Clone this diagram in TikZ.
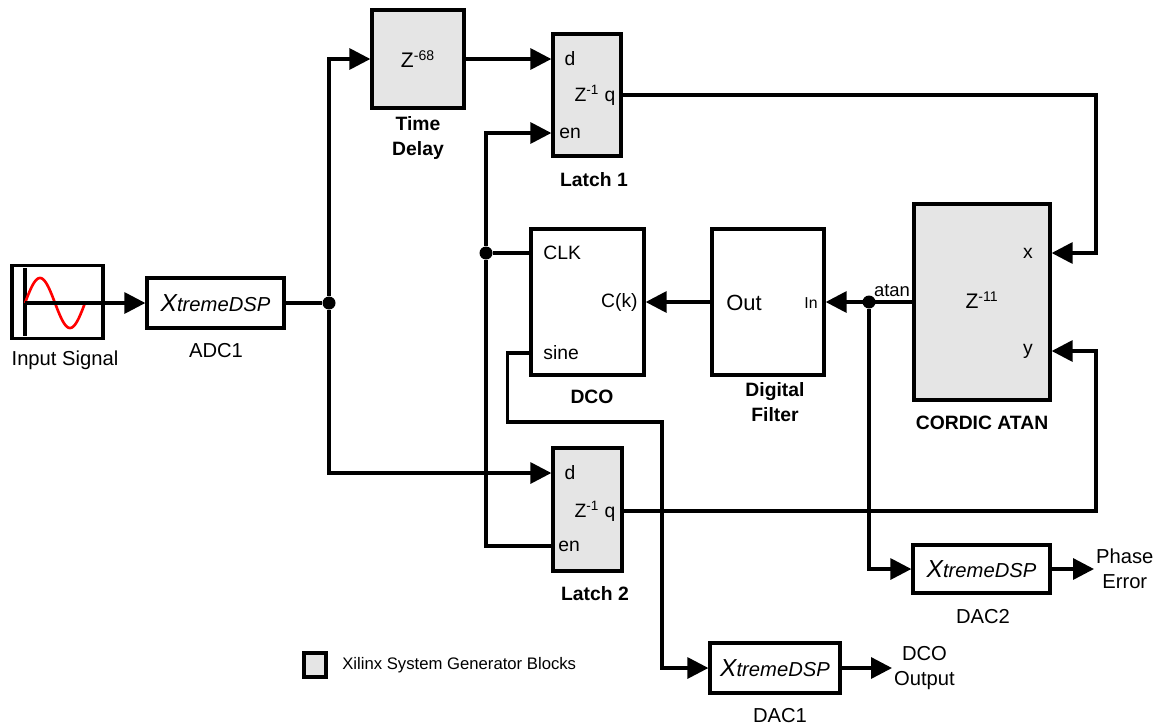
\documentclass[tikz,border=0pt]{standalone}
\usepackage{fontspec}
\setmainfont{Liberation Sans}
\usetikzlibrary{arrows.meta}

\newcommand{\xdsp}{{\itshape{\fontsize{14}{14}\selectfont X}tremeDSP}}

\tikzset{
  blk/.style={draw, line width=1.9pt, inner sep=0pt},
  gblk/.style={blk, fill=gray!20},
  wire/.style={line width=1.9pt},
  sig/.style={wire, -{Triangle[length=0.42cm, width=0.42cm]}},
  dot/.style={circle, fill=black, minimum size=0.26cm, inner sep=0pt},
  port/.style={inner sep=0pt, font=\fontsize{11}{12}\selectfont},
  lbl/.style={inner sep=0pt, font=\fontsize{11.5}{14.5}\selectfont, align=center},
  blbl/.style={inner sep=0pt, font=\bfseries\fontsize{11}{14.5}\selectfont, align=center}
}

\begin{document}
\begin{tikzpicture}[x=0.02cm, y=-0.02cm]
			\useasboundingbox (0,0) rectangle (1162,727);

			% Source and converters
			\node[blk, minimum width=1.82cm, minimum height=1.46cm] (insig) at (57.5,302) {};
			\node[blk, minimum width=2.74cm, minimum height=1.0cm, font=\fontsize{11.5}{13}\selectfont] (adc1) at (215.5,303) {\xdsp};
			\node[blk, minimum width=2.74cm, minimum height=0.96cm, font=\fontsize{11.5}{13}\selectfont] (dac2) at (981.5,569) {\xdsp};
			\node[blk, minimum width=2.6cm, minimum height=1.0cm, font=\fontsize{11.5}{13}\selectfont] (dac1) at (775,668) {\xdsp};

			% Sine generator icon
			\coordinate (orig) at (25,303);
			\draw[wire] (25,268) -- (25,336);
			\draw[red, line width=1.5pt] plot[domain=0:360, samples=60, smooth] ({25+\x/6}, {303-25*sin(\x)});

			% System generator blocks
			\node[gblk, minimum width=1.84cm, minimum height=1.96cm] (td) at (418,59) {};
			\node[gblk, minimum width=1.36cm, minimum height=2.44cm] (l1) at (587,95) {};
			\node[gblk, minimum width=1.38cm, minimum height=2.46cm] (l2) at (587.5,509.5) {};
			\node[blk, minimum width=2.26cm, minimum height=2.92cm] (dco) at (587.5,302) {};
			\node[blk, minimum width=2.24cm, minimum height=2.92cm] (filt) at (768,302) {};
			\node[gblk, minimum width=2.72cm, minimum height=3.92cm] (cordic) at (982,302) {};

			% Text inside blocks
			\node[port, font=\fontsize{12}{12}\selectfont] (tdz) at (418,59) {Z\textsuperscript{-68}};
			\node[port] (l1d) at (570,59) {d};
			\node[port] (l1q) at (595,95) {Z\textsuperscript{-1} q};
			\node[port] (l1en) at (570,133) {en};
			\node[port] (l2d) at (570,473) {d};
			\node[port] (l2q) at (595,511) {Z\textsuperscript{-1} q};
			\node[port] (l2en) at (569,546) {en};
			\node[port, anchor=west] (clk) at (543,253) {CLK};
			\node[port, anchor=east] (ck) at (638,302) {C(k)};
			\node[port, anchor=west] (sine) at (543,353) {sine};
			\node[port, anchor=west, font=\fontsize{12.5}{13}\selectfont] (out) at (726,303) {Out};
			\node[port, font=\fontsize{9}{10}\selectfont] (in) at (811,303) {In};
			\node[port] (cx) at (1028,253) {x};
			\node[port, font=\fontsize{12}{12}\selectfont] (cz) at (982,300) {Z\textsuperscript{-11}};
			\node[port] (cy) at (1028,351) {y};
			\node[port, font=\fontsize{10.5}{11}\selectfont] (atan) at (892,291) {atan};

			% Block names
			\node[lbl] (insiglbl) at (65,360) {Input Signal};
			\node[lbl] (adc1lbl) at (216,351) {ADC1};
			\node[blbl] (tdlbl) at (418,138) {Time\\Delay};
			\node[blbl] (l1lbl) at (594,180) {Latch 1};
			\node[blbl] (dcolbl) at (592,397) {DCO};
			\node[blbl] (filtlbl) at (775,402) {Digital\\Filter};
			\node[blbl] (cordiclbl) at (982,423) {CORDIC ATAN};
			\node[blbl] (l2lbl) at (595,594) {Latch 2};
			\node[lbl] (dac2lbl) at (983,617) {DAC2};
			\node[lbl] (dac1lbl) at (780,716) {DAC1};
			\node[lbl, inner sep=1pt, anchor=west] (pe) at (1094,569) {Phase\\Error};
			\node[lbl, inner sep=1pt, anchor=west] (dout) at (892,668) {DCO\\Output};

			% Junctions
			\node[dot] (j1) at (329,303) {};
			\node[dot] (j2) at (869,302) {};
			\node[dot] (j3) at (486,253) {};
			\coordinate (rtop) at (1096,95);
			\coordinate (rbot) at (1096,511);
			\coordinate (sbend) at (662,422);

			% Signal path
			\draw[sig] (orig) -- (adc1.west);
			\draw[wire] (adc1.east) -- (j1);
			\draw[sig] (j1) |- (td.west);
			\draw[sig] (j1) |- (l2.west |- l2d);
			\draw[sig] (td.east) -- (l1.west |- l1d);
			\draw[sig] (l1.east |- l1q) -- (rtop) |- (cordic.east |- cx);
			\draw[sig] (l2.east |- l2q) -- (rbot) |- (cordic.east |- cy);
			\draw[sig] (cordic.west) -- (filt.east);
			\draw[sig] (j2) |- (dac2.west);
			\draw[sig] (filt.west) -- (dco.east);
			\draw[sig] (dac2.east) -- (pe.west);
			\draw[sig] (dac1.east) -- (dout.west);

			% Clock and sine outputs of the DCO
			\draw[wire] (dco.west |- clk) -- (j3);
			\draw[sig] (j3) |- (l1.west |- l1en);
			\draw[wire] (j3) |- (l2.west |- l2en);
			\draw[sig] (dco.west |- sine) -- ++(-22,0) |- (sbend) |- (dac1.west);

			% Legend
			\node[gblk, minimum width=0.44cm, minimum height=0.48cm] (leg) at (315,665) {};
			\node[port, anchor=west, font=\fontsize{9.5}{10}\selectfont] (legtxt) at (342,665) {Xilinx System Generator Blocks};
		\end{tikzpicture}
\end{document}
